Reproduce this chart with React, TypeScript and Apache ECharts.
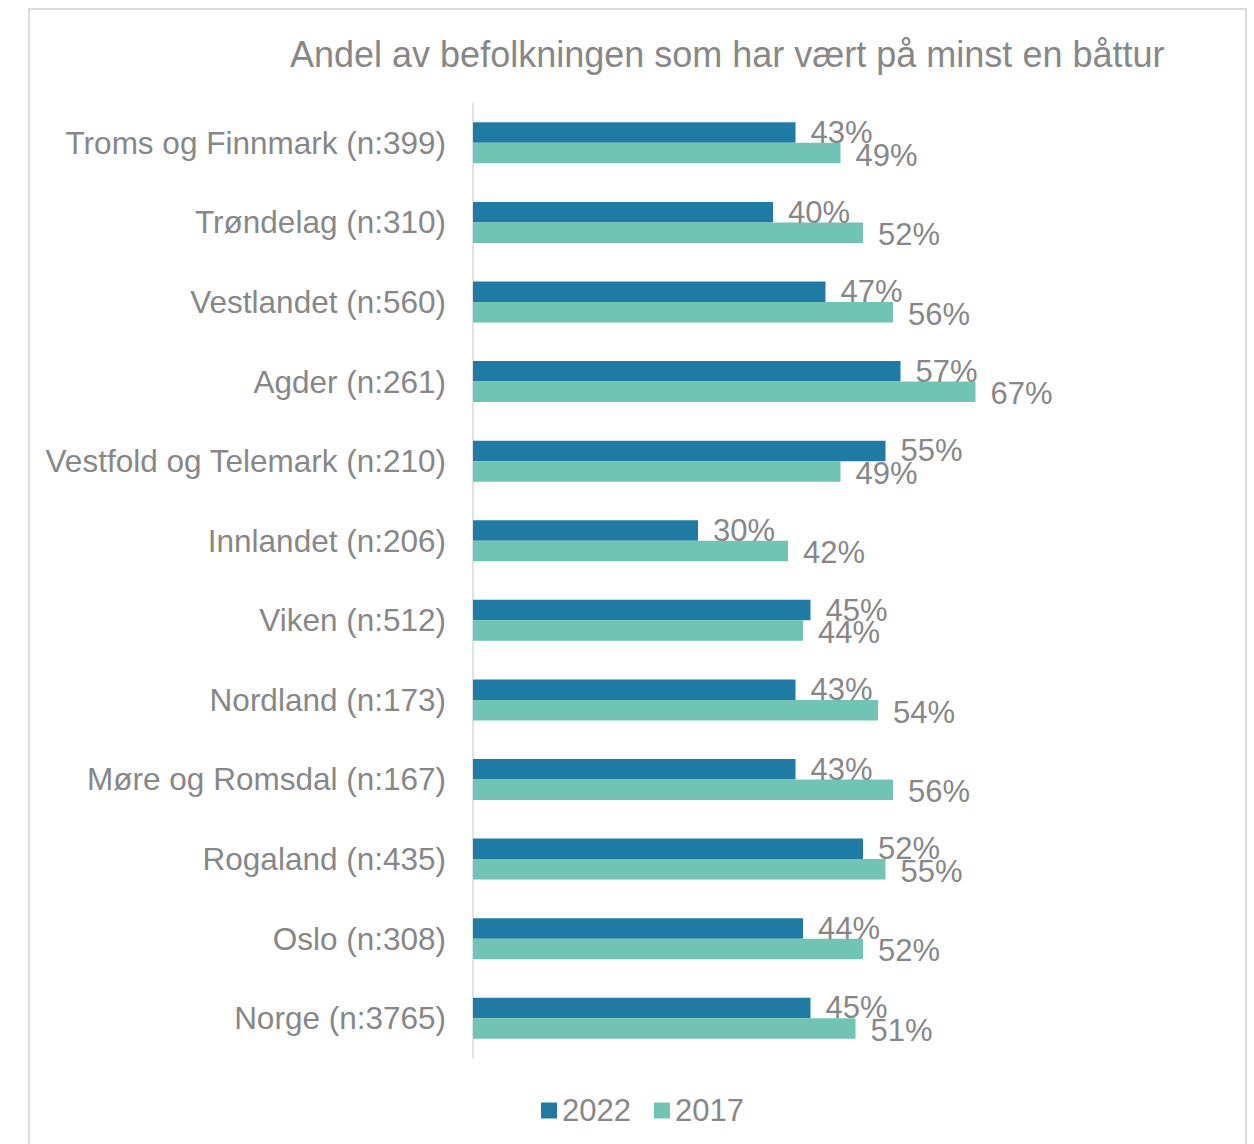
import React, { useEffect, useRef } from "react";
import * as echarts from "echarts";

const categories = [
  "Troms og Finnmark (n:399)",
  "Trøndelag (n:310)",
  "Vestlandet (n:560)",
  "Agder (n:261)",
  "Vestfold og Telemark (n:210)",
  "Innlandet (n:206)",
  "Viken (n:512)",
  "Nordland (n:173)",
  "Møre og Romsdal (n:167)",
  "Rogaland (n:435)",
  "Oslo (n:308)",
  "Norge (n:3765)",
];
const values2022 = [43, 40, 47, 57, 55, 30, 45, 43, 43, 52, 44, 45];
const values2017 = [49, 52, 56, 67, 49, 42, 44, 54, 56, 55, 52, 51];
const seriesNames = ["2022", "2017"];
const titleText = "Andel av befolkningen som har vært på minst en båttur";

const FONT = "'Liberation Sans', Arial, sans-serif";
const GRAY = "#878787";
const C2022 = "#1F7BA3";
const C2017 = "#70C4B4";

export default function App() {
  const ref = useRef<HTMLDivElement>(null);
  useEffect(() => {
    document.body.style.margin = "0";
    const chart = echarts.init(ref.current!, null, { renderer: "svg" });
    const label = {
      show: true,
      position: "right" as const,
      distance: 15,
      formatter: "{c}%",
      color: GRAY,
      fontSize: 31,
      fontFamily: FONT,
    };
    chart.setOption({
      animation: false,
      backgroundColor: "#ffffff",
      textStyle: { fontFamily: FONT },
      title: {
        text: titleText,
        left: 285,
        top: 31,
        textStyle: { fontSize: 36, fontWeight: "normal", color: GRAY, fontFamily: FONT },
      },
      graphic: [
        {
          type: "rect",
          shape: { x: 29, y: 9, width: 1217, height: 1200 },
          style: { fill: "none", stroke: "#dcdcdc", lineWidth: 2 },
          silent: true,
        },
      ],
      legend: {
        data: seriesNames,
        left: 536,
        top: 1090,
        icon: "rect",
        itemWidth: 16,
        itemHeight: 16,
        itemGap: 23,
        textStyle: { fontSize: 31, color: GRAY, fontFamily: FONT },
      },
      grid: { left: 473, right: 31, top: 103, bottom: 86, containLabel: false },
      xAxis: {
        type: "value",
        min: 0,
        max: 100,
        show: false,
        splitLine: { show: false },
      },
      yAxis: {
        type: "category",
        data: categories,
        inverse: true,
        axisLine: { show: true, lineStyle: { color: "#d9d9d9", width: 1.5 } },
        axisTick: { show: false },
        axisLabel: { fontSize: 31.5, color: GRAY, margin: 27, fontFamily: FONT },
      },
      series: [
        {
          name: seriesNames[0],
          type: "bar",
          data: values2022,
          barWidth: 20.5,
          barGap: "0%",
          itemStyle: { color: C2022 },
          label,
        },
        {
          name: seriesNames[1],
          type: "bar",
          data: values2017,
          barWidth: 20.5,
          barGap: "0%",
          itemStyle: { color: C2017 },
          label: { ...label, offset: [0, 2] },
        },
      ],
    });
    return () => chart.dispose();
  }, []);
  return <div ref={ref} style={{ width: 1254, height: 1144 }} />;
}
